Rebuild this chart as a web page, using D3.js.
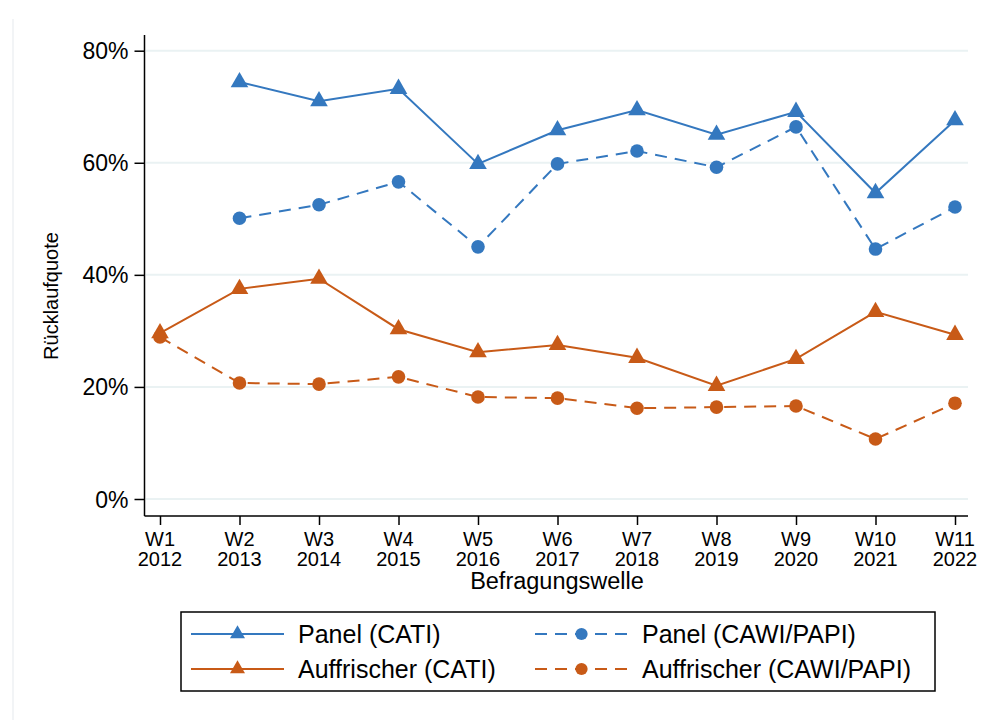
<!DOCTYPE html>
<html>
<head>
<meta charset="utf-8">
<script src="https://cdn.jsdelivr.net/npm/d3@7"></script>
<style>
  body { margin: 0; background: #fff; }
  text { font-family: "Liberation Sans", Arial, sans-serif; fill: #000; }
</style>
</head>
<body>
<div id="my_dataviz"></div>
<script>
// data (percent)
const waves = ["W1", "W2", "W3", "W4", "W5", "W6", "W7", "W8", "W9", "W10", "W11"];
const years = ["2012", "2013", "2014", "2015", "2016", "2017", "2018", "2019", "2020", "2021", "2022"];
const yTicks = [0, 20, 40, 60, 80];

const panelCati = [null, 74.4, 71.0, 73.2, 59.8, 65.8, 69.4, 65.0, 69.1, 54.6, 67.6];
const panelCawi = [null, 50.1, 52.5, 56.6, 45.0, 59.8, 62.1, 59.2, 66.4, 44.6, 52.1];
const auffCati = [29.6, 37.5, 39.3, 30.3, 26.2, 27.5, 25.2, 20.2, 25.0, 33.4, 29.3];
const auffCawi = [28.9, 20.7, 20.5, 21.8, 18.2, 18.0, 16.2, 16.4, 16.6, 10.7, 17.1];

const blue = "#3478bf", orange = "#c85a17";

const series = [
  {name: "Panel (CATI)", values: panelCati, color: blue, dashed: false, marker: "tri"},
  {name: "Panel (CAWI/PAPI)", values: panelCawi, color: blue, dashed: true, marker: "dot"},
  {name: "Auffrischer (CATI)", values: auffCati, color: orange, dashed: false, marker: "tri"},
  {name: "Auffrischer (CAWI/PAPI)", values: auffCawi, color: orange, dashed: true, marker: "dot"}
];

const width = 985, height = 720;

const svg = d3.select("#my_dataviz")
  .append("svg")
    .attr("width", width)
    .attr("height", height);

// faint outer frame edge
svg.append("line")
  .attr("x1", 13).attr("x2", 13).attr("y1", 19).attr("y2", 720)
  .attr("stroke", "#eef1f3")
  .attr("stroke-width", 1.5);

const x = d3.scaleLinear().domain([0, waves.length - 1]).range([160, 955]);
const y = d3.scaleLinear().domain([0, 80]).range([499, 50.7]);

// grid
svg.append("g")
  .selectAll("line")
  .data(yTicks)
  .join("line")
    .attr("x1", 146).attr("x2", 968)
    .attr("y1", d => y(d)).attr("y2", d => y(d))
    .attr("stroke", "#eaf2f3")
    .attr("stroke-width", 2);

// Y axis
const yAxis = svg.append("g")
  .attr("transform", "translate(144.5,0)")
  .call(d3.axisLeft(y).tickValues(yTicks).tickFormat(d => d + "%").tickSize(10).tickPadding(6));
yAxis.select(".domain").remove();
yAxis.selectAll(".tick line").attr("stroke", "#000").attr("stroke-width", 1.5);
yAxis.selectAll(".tick text").style("font-size", "23px").attr("dy", "0.35em");
svg.append("line")
  .attr("x1", 144.5).attr("x2", 144.5).attr("y1", 35).attr("y2", 516)
  .attr("stroke", "#000").attr("stroke-width", 1.5);

// X axis
const xAxis = svg.append("g")
  .attr("transform", "translate(0,516)")
  .call(d3.axisBottom(x).tickValues(d3.range(waves.length)).tickSize(9).tickFormat(""));
xAxis.select(".domain").remove();
xAxis.selectAll(".tick line").attr("stroke", "#000").attr("stroke-width", 1.5);
svg.append("line")
  .attr("x1", 144.5).attr("x2", 968).attr("y1", 516).attr("y2", 516)
  .attr("stroke", "#000").attr("stroke-width", 1.5);

const xl = svg.append("g").selectAll("text")
  .data(waves)
  .join("text")
    .attr("x", (d, i) => x(i))
    .attr("y", 546)
    .attr("text-anchor", "middle")
    .style("font-size", "20px");
xl.append("tspan").attr("x", (d, i) => x(i)).text(d => d);
xl.append("tspan").attr("x", (d, i) => x(i)).attr("dy", 20).text((d, i) => years[i]);

// axis titles
svg.append("text")
  .attr("x", 557).attr("y", 589)
  .attr("text-anchor", "middle")
  .style("font-size", "23.5px")
  .text("Befragungswelle");

svg.append("text")
  .attr("transform", "translate(58,296) rotate(-90)")
  .attr("text-anchor", "middle")
  .style("font-size", "20px")
  .text("Rücklaufquote");

// lines and markers
const line = d3.line()
  .defined(d => d != null)
  .x((d, i) => x(i))
  .y(d => y(d));

const tri = d3.symbol().type(d3.symbolTriangle).size(135);

function drawMarker(g, s, cx, cy, scale) {
  if (s.marker === "tri") {
    g.append("path")
      .attr("d", tri)
      .attr("transform", `translate(${cx},${cy}) scale(${scale})`)
      .attr("fill", s.color);
  } else {
    g.append("circle")
      .attr("cx", cx).attr("cy", cy).attr("r", 6.8 * scale)
      .attr("fill", s.color);
  }
}

series.forEach(s => {
  svg.append("path")
    .datum(s.values)
    .attr("d", line)
    .attr("fill", "none")
    .attr("stroke", s.color)
    .attr("stroke-width", 2)
    .attr("stroke-dasharray", s.dashed ? "12,8" : null);
  const g = svg.append("g");
  s.values.forEach((v, i) => {
    if (v != null) drawMarker(g, s, x(i), y(v), 1);
  });
});

// legend
svg.append("rect")
  .attr("x", 181).attr("y", 612)
  .attr("width", 754).attr("height", 79)
  .attr("fill", "#fff")
  .attr("stroke", "#000")
  .attr("stroke-width", 1.5);

const legendPos = [
  {lx: 191, ly: 634}, {lx: 535, ly: 634},
  {lx: 191, ly: 669}, {lx: 535, ly: 669}
];
series.forEach((s, k) => {
  const p = legendPos[k];
  const g = svg.append("g");
  g.append("line")
    .attr("x1", p.lx).attr("x2", p.lx + 93)
    .attr("y1", p.ly).attr("y2", p.ly)
    .attr("stroke", s.color)
    .attr("stroke-width", 2)
    .attr("stroke-dasharray", s.dashed ? "12,8" : null);
  drawMarker(g, s, p.lx + 46.5, p.ly, s.marker === "tri" ? 0.85 : 0.9);
  g.append("text")
    .attr("x", p.lx + 107)
    .attr("y", p.ly + 8.5)
    .style("font-size", "25px")
    .text(s.name);
});
</script>
</body>
</html>
